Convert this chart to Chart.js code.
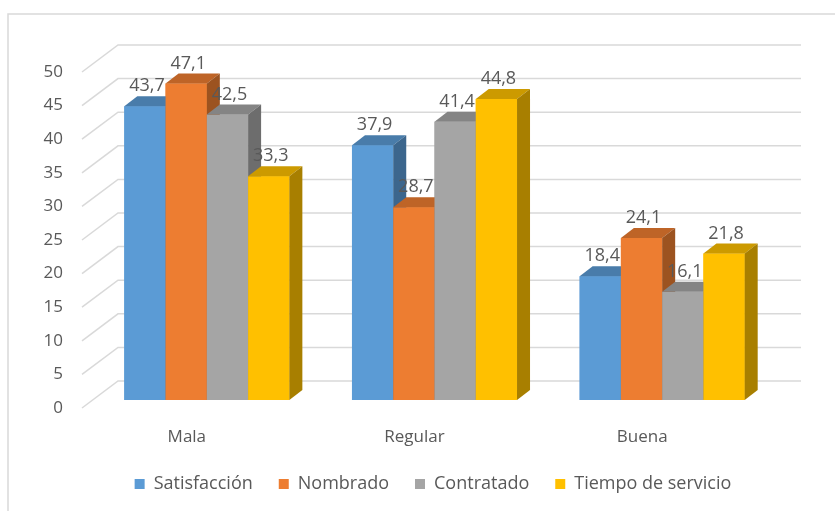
<!DOCTYPE html>
<html lang="es">
<head>
  <meta charset="UTF-8">
  <title>Satisfacción</title>
  <script src="https://cdn.jsdelivr.net/npm/chart.js"></script>
  <style>
    html, body { margin: 0; padding: 0; background: #fff; }
    #wrap { width: 835px; height: 511px; }
  </style>
</head>
<body>
  <div id="wrap"><canvas id="chart" width="835" height="511"></canvas></div>

  <script>
    // data
    const categories = ['Mala', 'Regular', 'Buena'];
    const seriesNames = ['Satisfacción', 'Nombrado', 'Contratado', 'Tiempo de servicio'];
    const satisfaccion = [43.7, 37.9, 18.4];
    const nombrado = [47.1, 28.7, 24.1];
    const contratado = [42.5, 41.4, 16.1];
    const tiempoServicio = [33.3, 44.8, 21.8];
    const yTicks = [0, 5, 10, 15, 20, 25, 30, 35, 40, 45, 50];

    const colors = ['#5B9BD5', '#ED7D31', '#A5A5A5', '#FFC000'];
    const textColor = '#595959';
    const FONT = "'Open Sans', sans-serif";

    // fake 3d offsets
    const DX = 13, DY = -10;      // bar depth
    const WX = 25, WY = -19;      // back wall
    const FX = -11, FY = 8;       // front edge
    const LEGEND_SHIFT = 45;      // legend sits right of centre in the original

    function shade(hex, f) {
      const n = parseInt(hex.slice(1), 16);
      const r = Math.round(((n >> 16) & 255) * f);
      const g = Math.round(((n >> 8) & 255) * f);
      const b = Math.round((n & 255) * f);
      return `rgb(${r},${g},${b})`;
    }

    const fmt = v => v.toFixed(1).replace('.', ',');

    const fake3d = {
      id: 'fake3d',
      afterLayout(chart) {
        if (chart.legend) {
          chart.legend.left += LEGEND_SHIFT;
          chart.legend.right += LEGEND_SHIFT;
        }
      },
      beforeDraw(chart) {
        const ctx = chart.ctx;
        ctx.save();
        ctx.fillStyle = '#fff';
        ctx.fillRect(0, 0, chart.width, chart.height);
        ctx.strokeStyle = '#d9d9d9';
        ctx.lineWidth = 1.5;
        ctx.beginPath();
        ctx.moveTo(8, chart.height + 2);
        ctx.lineTo(8, 14);
        ctx.lineTo(chart.width + 2, 14);
        ctx.stroke();
        ctx.restore();
      },
      beforeDatasetsDraw(chart) {
        const ctx = chart.ctx;
        const area = chart.chartArea;
        const y = chart.scales.y;
        ctx.save();
        ctx.strokeStyle = '#d9d9d9';
        ctx.lineWidth = 1.5;
        yTicks.forEach(v => {
          const py = y.getPixelForValue(v);
          ctx.beginPath();
          ctx.moveTo(area.left + FX, py + FY);
          ctx.lineTo(area.left + WX, py + WY);
          ctx.lineTo(area.right + WX, py + WY);
          ctx.stroke();
        });
        ctx.restore();
      },
      afterDatasetsDraw(chart) {
        const ctx = chart.ctx;
        ctx.save();
        // redraw left to right so each bar hides the side of the one before it
        chart.data.datasets.forEach((ds, i) => {
          const col = colors[i];
          chart.getDatasetMeta(i).data.forEach(bar => {
            bar.draw(ctx);
            const p = bar.getProps(['x', 'y', 'base', 'width'], true);
            const x0 = p.x - p.width / 2, x1 = p.x + p.width / 2;
            ctx.fillStyle = shade(col, 0.8);
            ctx.beginPath();
            ctx.moveTo(x0, p.y);
            ctx.lineTo(x0 + DX, p.y + DY);
            ctx.lineTo(x1 + DX, p.y + DY);
            ctx.lineTo(x1, p.y);
            ctx.closePath();
            ctx.fill();
            ctx.fillStyle = shade(col, 0.66);
            ctx.beginPath();
            ctx.moveTo(x1, p.y);
            ctx.lineTo(x1 + DX, p.y + DY);
            ctx.lineTo(x1 + DX, p.base + DY);
            ctx.lineTo(x1, p.base);
            ctx.closePath();
            ctx.fill();
          });
        });
        // value labels on top
        ctx.font = '18px ' + FONT;
        ctx.fillStyle = textColor;
        ctx.textAlign = 'center';
        ctx.textBaseline = 'bottom';
        chart.data.datasets.forEach((ds, i) => {
          chart.getDatasetMeta(i).data.forEach((bar, j) => {
            const p = bar.getProps(['x', 'y'], true);
            ctx.fillText(fmt(ds.data[j]), p.x + 2, p.y - 11);
          });
        });
        ctx.restore();
      }
    };

    const seriesData = [satisfaccion, nombrado, contratado, tiempoServicio];

    new Chart(document.getElementById('chart'), {
      type: 'bar',
      data: {
        labels: categories,
        datasets: seriesNames.map((name, i) => ({
          label: name,
          data: seriesData[i],
          backgroundColor: colors[i],
          borderWidth: 0
        }))
      },
      options: {
        responsive: false,
        animation: false,
        devicePixelRatio: 1,
        categoryPercentage: 0.725,
        barPercentage: 1,
        layout: { padding: { top: 64, right: 59, left: 0, bottom: 8 } },
        plugins: {
          tooltip: { enabled: false },
          legend: {
            position: 'bottom',
            labels: {
              boxWidth: 10,
              boxHeight: 10,
              padding: 26,
              color: textColor,
              font: { family: FONT, size: 18 }
            }
          }
        },
        scales: {
          x: {
            grid: { display: false },
            border: { display: false },
            ticks: {
              color: textColor,
              font: { family: FONT, size: 17 },
              padding: 19,
              labelOffset: -20
            },
            afterFit: s => { s.height = 49; }
          },
          y: {
            min: 0,
            max: 50,
            grid: { display: false, drawTicks: false },
            border: { display: false },
            ticks: {
              stepSize: 5,
              color: textColor,
              font: { family: FONT, size: 17 },
              padding: 30,
              labelOffset: 8
            },
            afterFit: s => { s.width = 93; }
          }
        }
      },
      plugins: [fake3d]
    });
  </script>
</body>
</html>
